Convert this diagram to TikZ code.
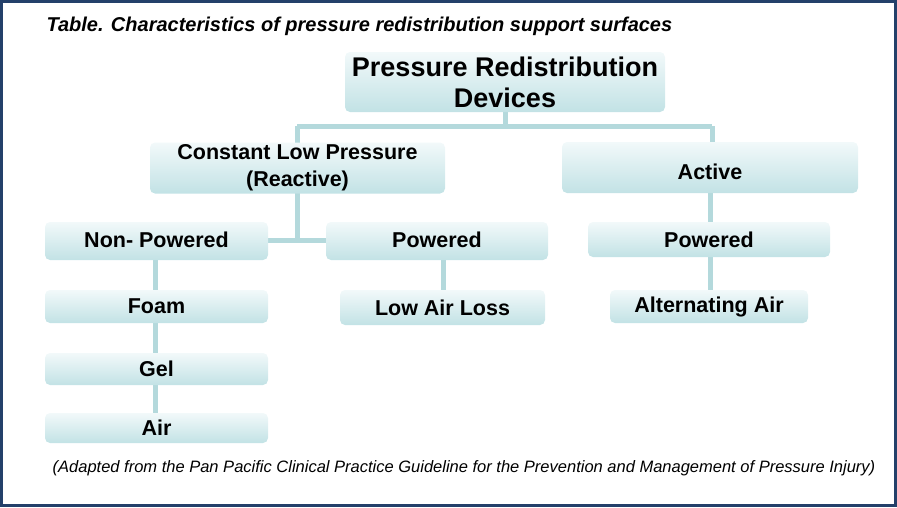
\documentclass[tikz,border=0pt]{standalone}
\usepackage{fontspec}
\setmainfont{Liberation Sans}
\definecolor{boxtop}{HTML}{F2F9FA}
\definecolor{boxbot}{HTML}{C2E2E5}
\definecolor{conn}{HTML}{B4D9DC}
\definecolor{frame}{HTML}{23406A}
\begin{document}
\begin{tikzpicture}[x=1pt,y=-1pt,
  bx/.style={rounded corners=5pt,top color=boxtop,bottom color=boxbot,draw=none,
    font=\bfseries\fontsize{21.5}{27}\selectfont,align=center,inner sep=0pt},
  ln/.style={draw=conn,line width=5pt}]
\useasboundingbox (0,0) rectangle (897,507);
\draw[frame,line width=3pt] (1.5,1.5) rectangle (895.5,505.5);
\node[anchor=west,font=\bfseries\itshape\fontsize{20}{22}\selectfont] (title) at (43,26) {Table. Characteristics of pressure redistribution support surfaces};
\node[font=\itshape\fontsize{16.5}{18}\selectfont] (foot) at (464,468) {(Adapted from the Pan Pacific Clinical Practice Guideline for the Prevention and Management of Pressure Injury)};
% connectors (behind)
\coordinate (j1) at (505,126);
\coordinate (jl) at (297,126);
\coordinate (jr) at (712,126);
\coordinate (j2) at (297,240);
\draw[ln] (505,100) -- (j1);
\draw[ln] (jl) -- (jr);
\draw[ln] (jl) -- (297,160);
\draw[ln] (jr) -- (712,160);
\draw[ln] (297,180) -- (j2);
\draw[ln] (250,240) -- (340,240);
\draw[ln] (155,250) -- (155,430);
\draw[ln] (443,250) -- (443,300);
\draw[ln] (710,180) -- (710,300);
% boxes
\node[bx,minimum width=320pt,minimum height=60pt,font=\bfseries\fontsize{27}{31}\selectfont] (top) at (505,82) {Pressure Redistribution\\Devices};
\node[bx,minimum width=295pt,minimum height=51pt] (clp) at (297.5,168) {Constant Low Pressure\\(Reactive)};
\node[bx,minimum width=296pt,minimum height=51pt] (act) at (710,167.5) {\smash{\raisebox{-12pt}{Active}}};
\node[bx,minimum width=223pt,minimum height=38pt] (np) at (156.5,241) {\raisebox{2pt}{Non- Powered}};
\node[bx,minimum width=222pt,minimum height=38pt] (pw) at (437,241) {\raisebox{2pt}{Powered}};
\node[bx,minimum width=242pt,minimum height=35pt] (pwr) at (709,239.5) {Powered};
\node[bx,minimum width=223pt,minimum height=33pt] (foam) at (156.5,306.5) {Foam};
\node[bx,minimum width=205pt,minimum height=35pt] (lal) at (442.5,307.5) {Low Air Loss};
\node[bx,minimum width=198pt,minimum height=33pt] (alt) at (709,306.5) {Alternating Air};
\node[bx,minimum width=223pt,minimum height=32pt] (gel) at (156.5,369) {Gel};
\node[bx,minimum width=223pt,minimum height=30pt] (air) at (156.5,428) {Air};
\end{tikzpicture}
\end{document}
